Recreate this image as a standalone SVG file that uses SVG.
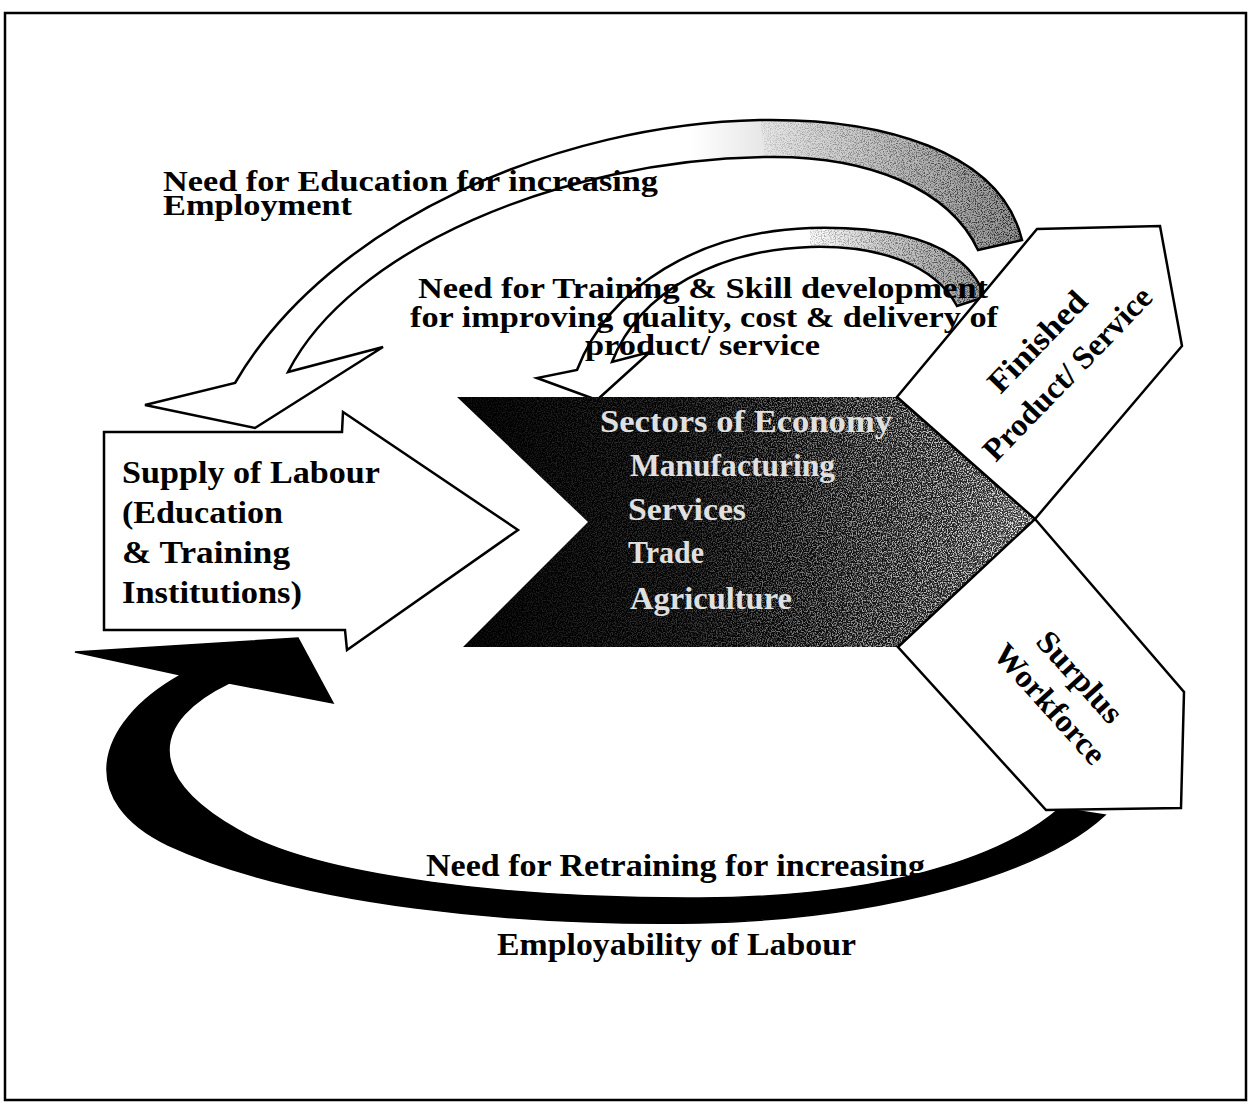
<svg xmlns="http://www.w3.org/2000/svg" width="1249" height="1105" viewBox="0 0 1249 1105">
<style>
  .t { font-family: "Liberation Serif", "Times New Roman", serif; font-weight: bold; font-size: 32px; fill: #000; }
  .ts { font-family: "Liberation Serif", "Times New Roman", serif; font-weight: bold; font-size: 29px; fill: #000; }
  .tw { font-family: "Liberation Serif", "Times New Roman", serif; font-weight: bold; font-size: 31px; fill: #e0e0e0; }
  .shape { stroke: #000; stroke-width: 2.5; stroke-linejoin: miter; }
  .box { fill: #fff; stroke: #000; stroke-width: 2.5; stroke-linejoin: miter; }
</style>
<defs>
  <linearGradient id="gBig" gradientUnits="userSpaceOnUse" x1="690" y1="0" x2="1022" y2="0">
    <stop offset="0" stop-color="#ffffff"/>
    <stop offset="0.3" stop-color="#dedede"/>
    <stop offset="1" stop-color="#959595"/>
  </linearGradient>
  <linearGradient id="gSmall" gradientUnits="userSpaceOnUse" x1="810" y1="0" x2="985" y2="0">
    <stop offset="0" stop-color="#ffffff"/>
    <stop offset="0.4" stop-color="#d0d0d0"/>
    <stop offset="1" stop-color="#a0a0a0"/>
  </linearGradient>
  <linearGradient id="gChev" gradientUnits="userSpaceOnUse" x1="457" y1="0" x2="1035" y2="0">
    <stop offset="0" stop-color="#000"/>
    <stop offset="0.55" stop-color="#060606"/>
    <stop offset="0.85" stop-color="#1c1c1c"/>
    <stop offset="1" stop-color="#3a3a3a"/>
  </linearGradient>
  <linearGradient id="gFade" gradientUnits="userSpaceOnUse" x1="457" y1="0" x2="1035" y2="0">
    <stop offset="0" stop-color="#fff" stop-opacity="0.05"/>
    <stop offset="0.4" stop-color="#fff" stop-opacity="0.2"/>
    <stop offset="0.7" stop-color="#fff" stop-opacity="0.6"/>
    <stop offset="1" stop-color="#fff" stop-opacity="0.95"/>
  </linearGradient>
  <linearGradient id="gBandFade" gradientUnits="userSpaceOnUse" x1="700" y1="0" x2="1022" y2="0">
    <stop offset="0" stop-color="#000" stop-opacity="0"/>
    <stop offset="0.5" stop-color="#000" stop-opacity="0.35"/>
    <stop offset="1" stop-color="#000" stop-opacity="0.8"/>
  </linearGradient>
  <filter id="speck" x="0" y="0" width="1" height="1">
    <feTurbulence type="fractalNoise" baseFrequency="0.8" numOctaves="2" seed="11" result="noise"/>
    <feColorMatrix in="noise" type="matrix" values="0 0 0 0 1  0 0 0 0 1  0 0 0 0 1  0 0 0 4 -1.7" result="dots"/>
    <feComposite in="dots" in2="SourceGraphic" operator="arithmetic" k1="1" k2="0" k3="0" k4="0"/>
  </filter>
  <filter id="speckDark" x="0" y="0" width="1" height="1">
    <feTurbulence type="fractalNoise" baseFrequency="0.85" numOctaves="2" seed="5" result="noise"/>
    <feColorMatrix in="noise" type="matrix" values="0 0 0 0 0  0 0 0 0 0  0 0 0 0 0  0 0 0 4 -1.8" result="dots"/>
    <feComposite in="dots" in2="SourceGraphic" operator="arithmetic" k1="1" k2="0" k3="0" k4="0"/>
  </filter>
</defs>
<rect x="0" y="0" width="1249" height="1105" fill="#fff"/>
<rect id="frame" x="5" y="13" width="1241" height="1087" fill="none" stroke="#000" stroke-width="2.5"/>

<g id="connectors">
  <path id="arrow-education" class="shape" fill="url(#gBig)" d="M 1022,240 C 1000,150 880,118 760,120 C 560,124 330,220 235,383 L 145,405 L 255,428 L 383,347 L 288,372 C 350,250 560,160 765,157 C 870,155 950,190 978,250 Z"/>
  <path fill="url(#gBandFade)" filter="url(#speckDark)" d="M 1022,240 C 1000,150 880,118 760,120 L 765,157 C 870,155 950,190 978,250 Z"/>
  <path id="arrow-training" class="shape" fill="url(#gSmall)" d="M 985,297 C 965,240 890,226 810,228 C 700,232 610,285 577,370 L 537,378 L 597,400 L 650,352 L 612,362 C 640,290 720,250 810,247 C 880,245 935,265 957,306 Z"/>
  <path fill="url(#gBandFade)" filter="url(#speckDark)" d="M 985,297 C 965,240 890,226 810,228 L 810,247 C 880,245 935,265 957,306 Z"/>
  <path id="arrow-retraining" fill="#000" stroke="#000" stroke-width="1.5" d="M 229,683 L 333,703 L 298,638 L 75,652 L 181,675 C 92,725 78,802 168,845 C 300,906 520,926 700,923 C 880,919 1040,875 1105,815 L 1060,808 C 1000,860 880,897 700,898 C 520,899 320,878 238,830 C 143,776 152,720 229,683 Z"/>
</g>

<g id="node-supply">
  <path class="box" d="M 104,432 L 342,432 L 343,412 L 518,530 L 347,650 L 345,630 L 104,630 Z"/>
  <text class="t" x="122" y="483" textLength="258" lengthAdjust="spacingAndGlyphs">Supply of Labour</text>
  <text class="t" x="122" y="523" textLength="161" lengthAdjust="spacingAndGlyphs">(Education</text>
  <text class="t" x="122" y="563" textLength="168" lengthAdjust="spacingAndGlyphs">&amp; Training</text>
  <text class="t" x="122" y="603" textLength="180" lengthAdjust="spacingAndGlyphs">Institutions)</text>
</g>

<g id="node-sectors">
  <path fill="url(#gChev)" d="M 457,397 L 898,397 L 1035,519 L 898,647 L 463,647 L 588,522 Z"/>
  <path fill="url(#gFade)" filter="url(#speck)" d="M 457,397 L 898,397 L 1035,519 L 898,647 L 463,647 L 588,522 Z"/>
  <text class="tw" x="600" y="432" textLength="292" lengthAdjust="spacingAndGlyphs">Sectors of Economy</text>
  <text class="tw" x="630" y="476" textLength="205" lengthAdjust="spacingAndGlyphs">Manufacturing</text>
  <text class="tw" x="628" y="520" textLength="118" lengthAdjust="spacingAndGlyphs">Services</text>
  <text class="tw" x="628" y="563" textLength="76" lengthAdjust="spacingAndGlyphs">Trade</text>
  <text class="tw" x="630" y="609" textLength="162" lengthAdjust="spacingAndGlyphs">Agriculture</text>
</g>

<g id="node-finished">
  <path class="box" d="M 897,397 L 1037,229 L 1160,226 L 1182,346 L 1035,519 Z"/>
  <g transform="translate(1045,349) rotate(-46)">
    <text class="t" x="0" y="0" text-anchor="middle" textLength="128" lengthAdjust="spacingAndGlyphs">Finished</text>
  </g>
  <g transform="translate(1075,381) rotate(-46)">
    <text class="t" x="0" y="0" text-anchor="middle" textLength="228" lengthAdjust="spacingAndGlyphs">Product/ Service</text>
  </g>
</g>

<g id="node-surplus">
  <path class="box" d="M 898,647 L 1035,519 L 1184,692 L 1181,808 L 1046,810 Z"/>
  <g transform="translate(1072,684) rotate(48)">
    <text class="t" x="0" y="0" text-anchor="middle" textLength="112" lengthAdjust="spacingAndGlyphs">Surplus</text>
  </g>
  <g transform="translate(1042,711) rotate(48)">
    <text class="t" x="0" y="0" text-anchor="middle" textLength="150" lengthAdjust="spacingAndGlyphs">Workforce</text>
  </g>
</g>

<g id="connector-labels">
  <text class="ts" x="163" y="191" textLength="495" lengthAdjust="spacingAndGlyphs">Need for Education for increasing</text>
  <text class="ts" x="163" y="215" textLength="189" lengthAdjust="spacingAndGlyphs">Employment</text>
  <text class="ts" x="418" y="298" textLength="570" lengthAdjust="spacingAndGlyphs">Need for Training &amp; Skill development</text>
  <text class="ts" x="410" y="327" textLength="588" lengthAdjust="spacingAndGlyphs">for improving quality, cost &amp; delivery of</text>
  <text class="ts" x="585" y="355" textLength="235" lengthAdjust="spacingAndGlyphs">product/ service</text>
  <text class="t" x="426" y="876" textLength="499" lengthAdjust="spacingAndGlyphs">Need for Retraining for increasing</text>
  <text class="t" x="497" y="955" textLength="359" lengthAdjust="spacingAndGlyphs">Employability of Labour</text>
</g>
</svg>
